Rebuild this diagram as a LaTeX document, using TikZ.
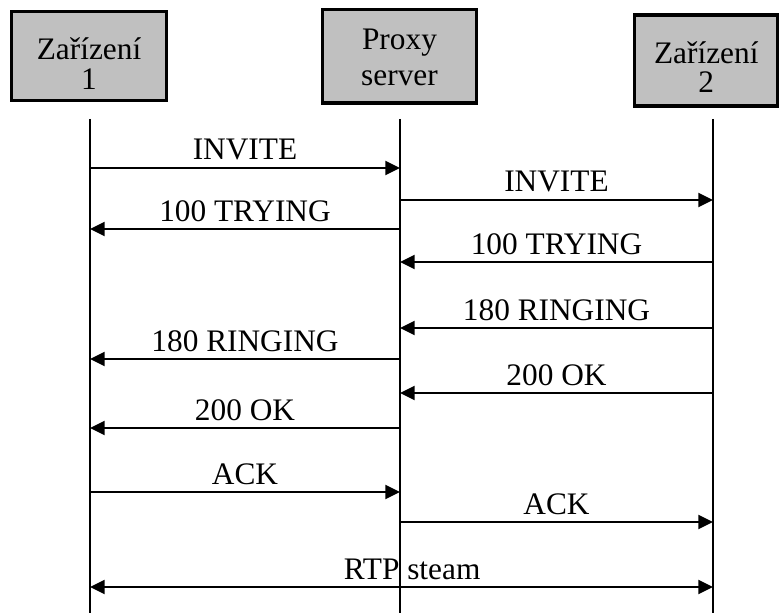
\documentclass[tikz,border=0pt]{standalone}
\usepackage{fontspec}
\setmainfont{Liberation Serif}
\usetikzlibrary{arrows.meta}
\definecolor{boxgray}{HTML}{C0C0C0}
\tikzset{
	entity/.style={draw, fill=boxgray, line width=2.5pt, inner sep=0pt, align=center, text depth=0pt},
	life/.style={line width=1.5pt},
	msg/.style={line width=1.5pt, -{Triangle[length=11pt,width=10.5pt]}},
	stream/.style={line width=1.5pt, {Triangle[length=11pt,width=10.5pt]}-{Triangle[length=11pt,width=10.5pt]}},
	lbl/.style={above, inner sep=5pt}
}
\begin{document}
\begin{tikzpicture}[x=0.75pt, y=-0.75pt, font=\fontsize{23.5}{22}\selectfont]
		\useasboundingbox (0,0) rectangle (779,613);
		\node[entity, minimum width=116pt, minimum height=66.75pt, text height=49.9pt] (dev1) at (89,55.75) {Zařízení\\1};
		\node[entity, minimum width=115.5pt, minimum height=70pt, text height=44.6pt, font=\fontsize{23.5}{27}\selectfont] (proxy) at (399.5,56.25) {Proxy\\server};
		\node[entity, minimum width=107.5pt, minimum height=68.25pt, text height=48.75pt] (dev2) at (706.25,60.5) {Zařízení\\2};
		\foreach \n/\x in {1/90,2/400,3/713} {
				\coordinate (t\n) at (\x,119);
				\coordinate (b\n) at (\x,613);
				\draw[life] (t\n) -- (b\n);
			}
		\foreach \y/\a/\b/\txt in {168/1/2/INVITE, 200/2/3/INVITE, 229/2/1/100 TRYING, 262/3/2/100 TRYING,
				328/3/2/180 RINGING, 359/2/1/180 RINGING, 393/3/2/200 OK, 428/2/1/200 OK, 492/1/2/ACK, 522/2/3/ACK}
			\draw[msg] (t\a |- 0,\y) -- node[lbl] {\txt} (t\b |- 0,\y);
		\draw[stream] (t1 |- 0,587) -- node[lbl, xshift=8pt] {RTP steam} (t3 |- 0,587);
	\end{tikzpicture}
\end{document}
